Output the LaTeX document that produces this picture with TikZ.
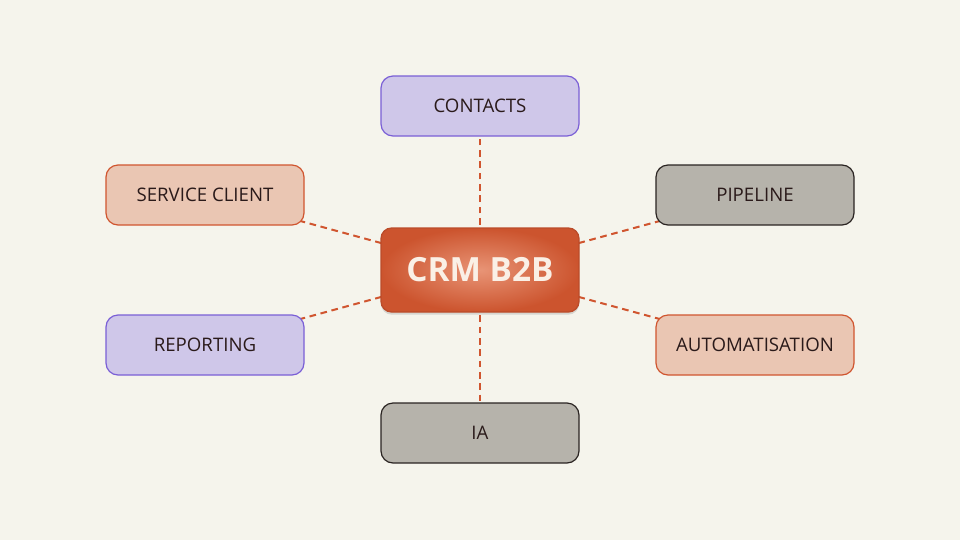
\documentclass[tikz,border=0pt]{standalone}
\usepackage{fontspec}
\setmainfont{Open Sans}
\usetikzlibrary{shadows}
\pgfdeclarelayer{bgl}\pgfsetlayers{bgl,main}
\definecolor{bg}{HTML}{F5F4EC}
\definecolor{pf}{HTML}{CFC7E9}\definecolor{pd}{HTML}{7A5FD6}
\definecolor{sf}{HTML}{EAC6B3}\definecolor{sd}{HTML}{D0552F}
\definecolor{gf}{HTML}{B6B3AB}\definecolor{gd}{HTML}{2A2422}
\definecolor{ln}{HTML}{D0552F}
\definecolor{tx}{HTML}{2A1A1A}
\begin{document}
\begin{tikzpicture}[x=0.75pt,y=-0.75pt,
 sat/.style={rounded corners=9pt,line width=0.9pt,minimum width=148.5pt,minimum height=45pt,text=tx,font=\fontsize{14}{16}\selectfont},
 pur/.style={sat,fill=pf,draw=pd},
 sal/.style={sat,fill=sf,draw=sd},
 gry/.style={sat,fill=gf,draw=gd},
 con/.style={draw=ln,line width=1.5pt,dash pattern=on 5pt off 3.5pt}]
\begin{pgfonlayer}{bgl}
\fill[bg] (0,0) rectangle (960,540);
\end{pgfonlayer}
\node[pur] (contacts) at (480,106) {CONTACTS};
\node[sal] (service) at (205,195) {SERVICE CLIENT};
\node[gry] (pipeline) at (755,195) {PIPELINE};
\node[pur] (reporting) at (205,345) {REPORTING};
\node[sal] (auto) at (755,345) {AUTOMATISATION};
\node[gry] (ia) at (480,433) {IA};
\node[rounded corners=8pt,minimum width=148.5pt,minimum height=63pt,draw=sd!90!black,line width=1pt,
 inner color={rgb,255:red,232;green,148;blue,118},outer color={rgb,255:red,204;green,84;blue,46},
 drop shadow={opacity=0.25,shadow xshift=0pt,shadow yshift=-2pt},
 text={rgb,255:red,250;green,240;blue,230},font=\fontsize{25}{30}\selectfont\bfseries] (crm) at (480,270) {CRM B2B};
\begin{pgfonlayer}{bgl}
\foreach \n in {contacts,service,pipeline,reporting,auto,ia} \draw[con] (crm.center) -- (\n.center);
\end{pgfonlayer}
\end{tikzpicture}
\end{document}
